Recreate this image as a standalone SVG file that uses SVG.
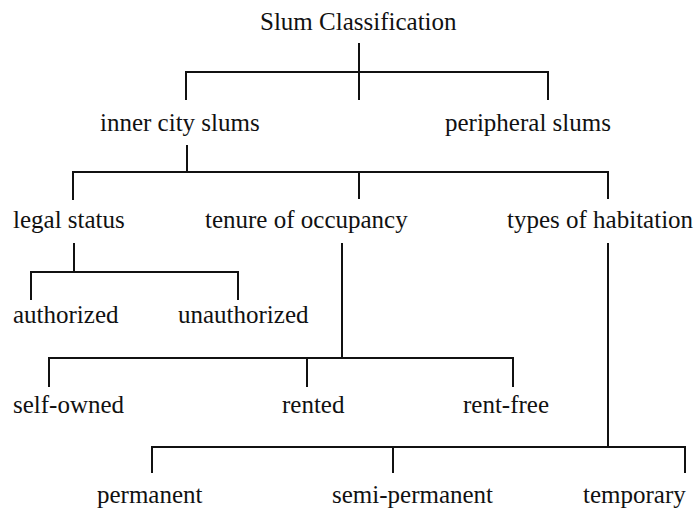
<svg xmlns="http://www.w3.org/2000/svg" width="696" height="511" viewBox="0 0 696 511">
<style>
.t{font-family:"Liberation Serif","Times New Roman",serif;font-size:25px;fill:#111}
.c path{fill:none;stroke:#111;stroke-width:2}
</style>
<rect width="696" height="511" fill="#fff"/>
<g class="c" id="connectors">
<path d="M359 43V100M186 100V72H548V100"/>
<path d="M187 145V172M73 200V172H608V199M359 172V199"/>
<path d="M74 243V272M31 300V272H238V300"/>
<path d="M342 243V358M49 387V358H513V387M307 358V387"/>
<path d="M608 243V447M152 473V447H685V473M393 447V473"/>
</g>
<g id="n-root"><text class="t" x="260" y="30">Slum Classification</text></g>
<g id="n-inner"><text class="t" x="100" y="131">inner city slums</text></g>
<g id="n-peripheral"><text class="t" x="445" y="131">peripheral slums</text></g>
<g id="n-legal"><text class="t" x="13" y="228">legal status</text></g>
<g id="n-tenure"><text class="t" x="205" y="228">tenure of occupancy</text></g>
<g id="n-types"><text class="t" x="507" y="228">types of habitation</text></g>
<g id="n-authorized"><text class="t" x="13" y="323">authorized</text></g>
<g id="n-unauthorized"><text class="t" x="178" y="323">unauthorized</text></g>
<g id="n-selfowned"><text class="t" x="13" y="413">self-owned</text></g>
<g id="n-rented"><text class="t" x="282" y="413">rented</text></g>
<g id="n-rentfree"><text class="t" x="463" y="413">rent-free</text></g>
<g id="n-permanent"><text class="t" x="97" y="503">permanent</text></g>
<g id="n-semi"><text class="t" x="332" y="503">semi-permanent</text></g>
<g id="n-temporary"><text class="t" x="583" y="503">temporary</text></g>
</svg>
